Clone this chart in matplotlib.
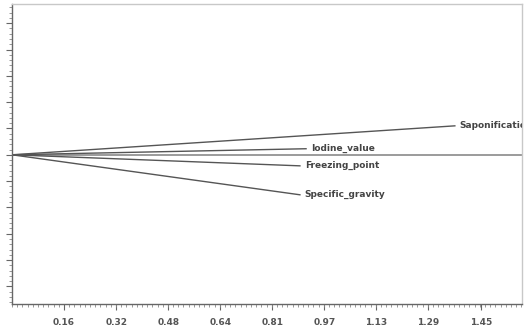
import matplotlib
matplotlib.use("Agg")
import matplotlib.pyplot as plt
import numpy as np
from matplotlib.ticker import MultipleLocator, FixedLocator

variables = ["Saponification", "Iodine_value", "Freezing_point", "Specific_gravity"]
end_x = [1.372, 0.911, 0.892, 0.892]
end_y = [0.110, 0.023, -0.042, -0.152]

tick_vals = [0.161, 0.323, 0.484, 0.645, 0.806, 0.968, 1.129, 1.290, 1.452]
tick_labels = ["0.16", "0.32", "0.48", "0.64", "0.81", "0.97", "1.13", "1.29", "1.45"]

fig = plt.figure(figsize=(5.28, 3.27), dpi=100)
ax = fig.add_axes([12/528, 23/327, 510/528, 300/327])
ax.set_xlim(0, 1.58)
ax.set_ylim(-0.567, 0.573)

ax.axhline(0, color="#8a8a8a", lw=1.2, zorder=1)
for name, x, y in zip(variables, end_x, end_y):
    ax.plot([0, x], [0, y], color="#555555", lw=1.0, zorder=2)
    ax.text(x + 0.015, y, name, fontsize=6.5, fontweight="bold", color="#444444",
            ha="left", va="center", clip_on=True)

ax.xaxis.set_major_locator(FixedLocator(tick_vals))
ax.set_xticklabels(tick_labels, fontsize=6.5, fontweight="bold", color="#555555")
ax.xaxis.set_minor_locator(MultipleLocator(0.0161))
ax.yaxis.set_major_locator(MultipleLocator(0.1))
ax.yaxis.set_minor_locator(MultipleLocator(0.02))
ax.set_yticklabels([])
ax.tick_params(axis="both", which="major", direction="out", length=4, width=0.8, color="#666666", pad=6)
ax.tick_params(axis="both", which="minor", direction="out", length=2, width=0.6, color="#888888")

for s in ["left", "bottom"]:
    ax.spines[s].set_color("#666666")
    ax.spines[s].set_linewidth(1.0)
for s in ["top", "right"]:
    ax.spines[s].set_color("#c8c8c8")
    ax.spines[s].set_linewidth(1.0)

fig.savefig("out.png", dpi=100)
